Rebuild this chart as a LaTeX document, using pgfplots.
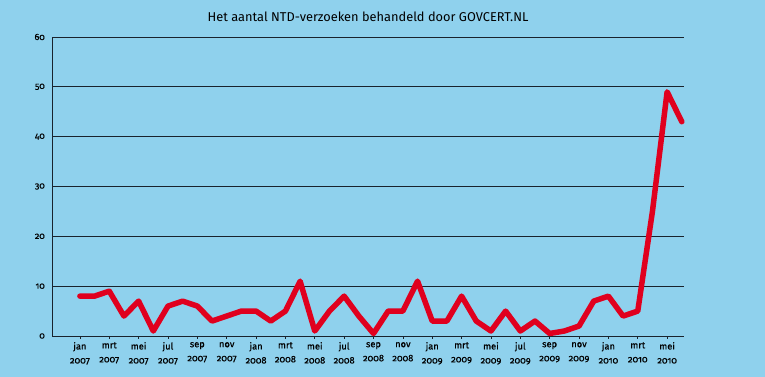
\documentclass[border=0pt]{standalone}
\usepackage{fontspec}
\setmainfont{Fira Sans}[Numbers=OldStyle]
\newfontfamily\tickfont{Fira Sans}[Numbers=OldStyle, FakeBold=0.5]
\usepackage{pgfplots}
\pgfplotsset{compat=1.18}
\definecolor{bg}{RGB}{143,209,237}
\definecolor{lred}{RGB}{224,0,30}
\definecolor{axc}{RGB}{25,35,45}
\begin{document}
\begin{tikzpicture}[x=1pt,y=1pt]
\fill[bg] (0,0) rectangle (765,377);
\begin{axis}[
  at={(52pt,41pt)}, anchor=south west,
  scale only axis, width=632pt, height=299pt,
  xmin=-1.9, xmax=41.15, ymin=0, ymax=60,
  axis lines*=left,
  axis line style={axc, line width=0.9pt},
  ytick={0,10,...,60},
  ymajorgrids,
  grid style={axc, line width=0.9pt},
  major tick length=3pt,
  tick align=outside,
  xtick pos=bottom, ytick pos=left,
  ytick style={draw=none},
  xtick style={axc, line width=0.7pt},
  xtick={0,2,...,40},
  xticklabels={{jan\\2007},{mrt\\2007},{mei\\2007},{jul\\2007},{sep\\2007},{nov\\2007},
               {jan\\2008},{mrt\\2008},{mei\\2008},{jul\\2008},{sep\\2008},{nov\\2008},
               {jan\\2009},{mrt\\2009},{mei\\2009},{jul\\2009},{sep\\2009},{nov\\2009},
               {jan\\2010},{mrt\\2010},{mei\\2010}},
  xticklabel style={align=center, font=\tickfont\fontsize{9.3}{14}\selectfont, inner sep=1pt, yshift=-2pt},
  yticklabel style={font=\tickfont\fontsize{9}{10}\selectfont, inner sep=1pt, xshift=-3pt},
  /pgf/number format/assume math mode=true,
  title={Het aantal NTD-verzoeken behandeld door GOVCERT.NL},
  title style={font=\fontsize{12.8}{14}\selectfont, at={(0.5,1)}, anchor=center, yshift=14pt},
  clip=false,
]
\addplot[lred, line width=5.5pt, line join=round, line cap=round] coordinates {
(0,8) (1,8) (2,9) (3,4) (4,7) (5,1) (6,6) (7,7) (8,6) (9,3) (10,4) (11,5)
(12,5) (13,3) (14,5) (15,11) (16,1) (17,5) (18,8) (19,4) (20,0.5) (21,5) (22,5) (23,11)
(24,3) (25,3) (26,8) (27,3) (28,1) (29,5) (30,1) (31,3) (32,0.5) (33,1) (34,2) (35,7)
(36,8) (37,4) (38,5) (39,25) (40,49) (41,43)
};
\end{axis}
\end{tikzpicture}
\end{document}
